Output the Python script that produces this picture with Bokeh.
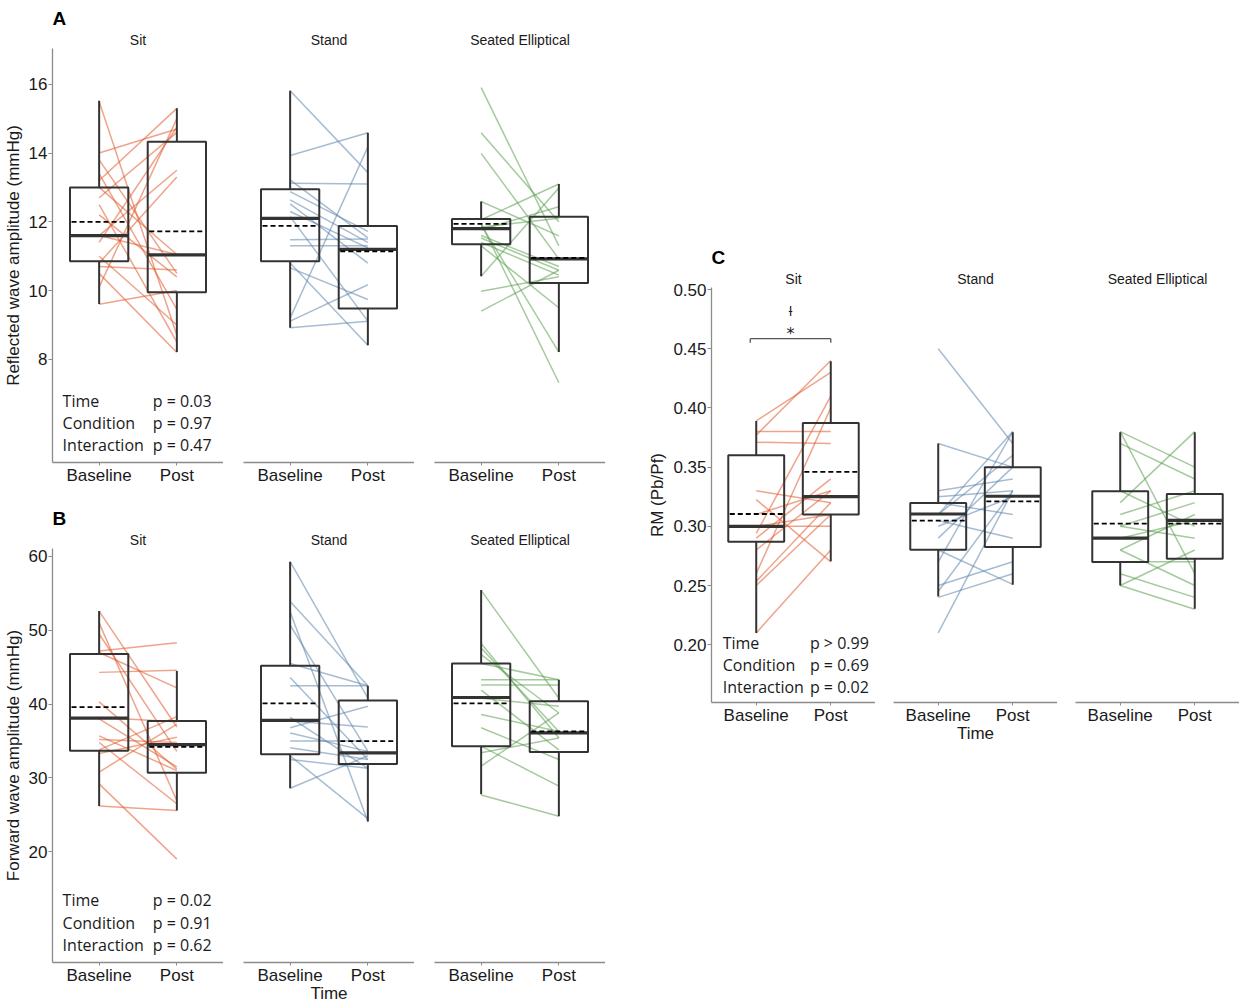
from bokeh.plotting import figure
from bokeh.layouts import row, column
from bokeh.models import (ColumnDataSource, Range1d, FixedTicker, Title, Spacer,
                          NumeralTickFormatter)
from bokeh.core.properties import value
from bokeh.embed import file_html
from bokeh.resources import INLINE

# ------------------------------------------------------------------ data
CONDITIONS = ["Sit", "Stand", "Seated Elliptical"]
TIMES = ["Baseline", "Post"]
TERMS = ["Time", "Condition", "Interaction"]

# Panel A: reflected wave amplitude (mmHg), paired per participant
RWA_SIT_BASE = [15.5, 14.0, 13.8, 13.4, 13.2, 13.0, 12.7, 12.5, 12.2, 11.6, 11.4, 11.0, 10.8, 10.7, 10.5, 10.1, 9.6, 11.6]
RWA_SIT_POST = [8.7, 14.7, 10.5, 9.45, 15.3, 11.05, 14.6, 8.5, 10.4, 13.5, 14.75, 9.0, 13.3, 10.6, 8.2, 15.0, 10.0, 11.05]
RWA_STAND_BASE = [15.81, 13.93, 13.22, 13.12, 12.88, 12.64, 12.52, 12.3, 12.15, 11.48, 11.3, 10.8, 10.66, 9.2, 9.11, 8.92]
RWA_STAND_POST = [13.43, 14.59, 11.53, 13.1, 11.72, 11.4, 10.8, 11.24, 9.11, 11.5, 11.3, 8.41, 9.74, 14.18, 10.17, 9.11]
RWA_SE_BASE = [15.9, 14.59, 13.99, 12.59, 12.06, 11.95, 11.91, 11.77, 11.6, 11.53, 11.4, 11.3, 10.42, 9.98, 9.4, 11.85]
RWA_SE_POST = [11.3, 12.0, 10.92, 11.59, 13.1, 7.32, 8.21, 12.44, 10.7, 10.59, 10.45, 9.5, 12.98, 10.4, 10.59, 12.1]
# box summaries, [Baseline, Post] for each condition
RWA_LOW = [[9.61, 8.21], [8.92, 8.41], [10.42, 8.21]]
RWA_Q1 = [[10.85, 9.95], [10.85, 9.48], [11.35, 10.22]]
RWA_MED = [[11.6, 11.04], [12.1, 11.2], [11.8, 10.92]]
RWA_Q3 = [[13.0, 14.33], [12.95, 11.88], [12.08, 12.15]]
RWA_HIGH = [[15.52, 15.3], [15.81, 14.59], [12.59, 13.1]]
RWA_MEAN = [[12.0, 11.72], [11.88, 11.14], [11.94, 10.95]]
RWA_P = ["p = 0.03", "p = 0.97", "p = 0.47"]
RWA_YTICKS = [8, 10, 12, 14, 16]

# Panel B: forward wave amplitude (mmHg)
FWA_SIT_BASE = [52.6, 51.0, 49.5, 47.2, 47.0, 44.3, 40.3, 38.2, 38.0, 35.7, 35.2, 34.8, 33.8, 33.3, 30.8, 29.2, 26.2]
FWA_SIT_POST = [36.9, 26.9, 33.6, 48.3, 42.2, 44.6, 31.2, 37.6, 31.5, 31.0, 34.8, 26.5, 38.3, 35.5, 37.3, 19.0, 25.6]
FWA_STAND_BASE = [59.3, 53.9, 52.5, 50.7, 45.5, 43.6, 42.5, 38.2, 37.7, 36.8, 36.1, 35.0, 34.1, 32.5, 28.6, 33.0]
FWA_STAND_POST = [40.8, 42.5, 24.1, 33.6, 42.5, 32.5, 42.5, 31.3, 36.9, 39.7, 33.6, 35.0, 32.5, 31.3, 33.0, 24.5]
FWA_SE_BASE = [55.4, 48.2, 47.6, 46.7, 45.5, 43.3, 42.6, 41.9, 40.8, 38.6, 36.8, 34.3, 33.4, 31.6, 27.7]
FWA_SE_POST = [40.8, 35.4, 36.3, 38.8, 43.3, 43.3, 42.6, 33.8, 39.7, 36.3, 32.5, 28.9, 35.4, 38.8, 24.8]
FWA_LOW = [[26.2, 25.6], [28.6, 24.1], [27.8, 24.8]]
FWA_Q1 = [[33.7, 30.7], [33.2, 31.9], [34.3, 33.5]]
FWA_MED = [[38.1, 34.5], [37.8, 33.4], [40.9, 36.1]]
FWA_Q3 = [[46.8, 37.7], [45.2, 40.5], [45.5, 40.4]]
FWA_HIGH = [[52.6, 44.5], [59.3, 42.5], [55.45, 43.3]]
FWA_MEAN = [[39.6, 34.2], [40.1, 35.0], [40.1, 36.3]]
FWA_P = ["p = 0.02", "p = 0.91", "p = 0.62"]
FWA_YTICKS = [20, 30, 40, 50, 60]

# Panel C: reflection magnitude RM (Pb/Pf)
RM_SIT_BASE = [0.389, 0.380, 0.377, 0.371, 0.330, 0.3225, 0.310, 0.300, 0.300, 0.294, 0.290, 0.280, 0.260, 0.2535, 0.250, 0.210]
RM_SIT_POST = [0.430, 0.380, 0.440, 0.370, 0.320, 0.270, 0.330, 0.300, 0.310, 0.410, 0.340, 0.330, 0.400, 0.320, 0.310, 0.280]
RM_STAND_BASE = [0.450, 0.370, 0.330, 0.325, 0.320, 0.310, 0.310, 0.305, 0.300, 0.290, 0.280, 0.270, 0.250, 0.245, 0.240, 0.210]
RM_STAND_POST = [0.370, 0.350, 0.340, 0.330, 0.310, 0.380, 0.360, 0.290, 0.325, 0.350, 0.251, 0.380, 0.270, 0.330, 0.260, 0.330]
RM_SE_BASE = [0.380, 0.380, 0.370, 0.330, 0.320, 0.310, 0.300, 0.300, 0.290, 0.280, 0.280, 0.270, 0.260, 0.250, 0.250]
RM_SE_POST = [0.350, 0.260, 0.340, 0.300, 0.380, 0.330, 0.320, 0.290, 0.305, 0.310, 0.250, 0.270, 0.240, 0.230, 0.280]
RM_LOW = [[0.210, 0.2704], [0.2408, 0.2507], [0.2501, 0.2304]]
RM_Q1 = [[0.2870, 0.310], [0.2803, 0.2825], [0.2699, 0.2727]]
RM_MED = [[0.300, 0.325], [0.3104, 0.3254], [0.2901, 0.3051]]
RM_Q3 = [[0.360, 0.3873], [0.3197, 0.3499], [0.3296, 0.3273]]
RM_HIGH = [[0.389, 0.4394], [0.370, 0.3794], [0.3794, 0.3794]]
RM_MEAN = [[0.3104, 0.346], [0.3048, 0.3211], [0.3023, 0.3023]]
RM_P = ["p > 0.99", "p = 0.69", "p = 0.02"]
RM_YTICKS = [0.20, 0.25, 0.30, 0.35, 0.40, 0.45, 0.50]
RM_SIG = ["ƚ", "*"]

# ------------------------------------------------------------------ style
FONT = "Liberation Sans"
TXT = "#1a1a1a"
AXIS_GREY = "#8c8c8c"
BOX = "#333333"
LINE_COLORS = ["#E05A2B", "#5E85AB", "#5B9E4F"]
HALF = 0.375
XPOS = [i + 1 for i in range(len(TIMES))]

FW_L, FW_R = 171, 164
FH_L, FH_R = 414, 415


def facet(ci, base, post, low, q1, med, q3, high, mean, yr, yticks, fw, fh,
          left, top, bottom, ylabel=None, fmt=None, letter=None, xlabel=None,
          pvals=None, prow=None, pcols=None):
    p = figure(frame_width=fw, frame_height=fh, title=None,
               x_range=Range1d(0.4, 2.6), y_range=Range1d(*yr),
               output_backend="svg", toolbar_location=None,
               y_axis_location="left" if ylabel else None,
               min_border_left=left, min_border_right=0,
               min_border_top=top, min_border_bottom=bottom,
               outline_line_color=None)
    p.add_layout(Title(text=CONDITIONS[ci], align="center", text_font_size="14px",
                       text_font_style="normal", text_font=FONT, text_color=TXT,
                       standoff=2), "above")
    if letter:
        p.add_layout(Title(text=letter, align="left", text_font_size="19px",
                           text_font_style="bold", text_font=FONT, text_color="black",
                           standoff=0), "above")
    p.xgrid.visible = False
    p.ygrid.visible = False

    # x axis
    xa = p.xaxis[0]
    xa.ticker = FixedTicker(ticks=XPOS)
    xa.major_label_overrides = {x: t for x, t in zip(XPOS, TIMES)}
    xa.axis_line_color = AXIS_GREY
    xa.axis_line_width = 1.3
    xa.major_tick_line_color = AXIS_GREY
    xa.major_tick_out = 3
    xa.major_tick_in = 0
    xa.minor_tick_line_color = None
    xa.major_label_text_font = FONT
    xa.major_label_text_font_size = "17px"
    xa.major_label_text_color = TXT
    xa.major_label_standoff = 0
    if xlabel:
        xa.axis_label = xlabel
        xa.axis_label_text_font = FONT
        xa.axis_label_text_font_size = "17px"
        xa.axis_label_text_font_style = "normal"
        xa.axis_label_text_color = TXT
        xa.axis_label_standoff = -4

    if ylabel:
        ya = p.yaxis[0]
        ya.ticker = FixedTicker(ticks=yticks)
        if fmt:
            ya.formatter = NumeralTickFormatter(format=fmt)
        ya.axis_line_color = AXIS_GREY
        ya.axis_line_width = 1.3
        ya.major_tick_line_color = AXIS_GREY
        ya.major_tick_out = 4
        ya.major_tick_in = 0
        ya.minor_tick_line_color = None
        ya.major_label_text_font = FONT
        ya.major_label_text_font_size = "17px"
        ya.major_label_text_color = TXT
        ya.major_label_standoff = 1
        ya.axis_label = ylabel
        ya.axis_label_text_font = FONT
        ya.axis_label_text_font_size = "17px"
        ya.axis_label_text_font_style = "normal"
        ya.axis_label_text_color = TXT
        ya.axis_label_standoff = 3

    # paired participant lines
    src = ColumnDataSource(dict(x0=[XPOS[0]] * len(base), x1=[XPOS[1]] * len(post),
                                y0=base, y1=post))
    p.segment("x0", "y0", "x1", "y1", source=src, line_color=LINE_COLORS[ci],
              line_alpha=0.55, line_width=1.5)

    # boxes
    bs = ColumnDataSource(dict(x=XPOS, left=[x - HALF for x in XPOS],
                               right=[x + HALF for x in XPOS],
                               mleft=[x - HALF + 0.02 for x in XPOS],
                               mright=[x + HALF - 0.02 for x in XPOS],
                               low=low, q1=q1, med=med, q3=q3, high=high, mean=mean))
    p.segment("x", "q3", "x", "high", source=bs, line_color=BOX, line_width=2)
    p.segment("x", "low", "x", "q1", source=bs, line_color=BOX, line_width=2)
    p.quad(left="left", right="right", bottom="q1", top="q3", source=bs,
           fill_color=None, line_color=BOX, line_width=2)
    p.segment("left", "med", "right", "med", source=bs, line_color=BOX, line_width=3.2)
    p.segment("mleft", "mean", "mright", "mean", source=bs, line_color="black",
              line_width=1.8, line_dash="5 3")

    if pvals:
        p.text(x=[pcols[0]] * len(TERMS), y=prow, text=TERMS,
               text_font=value("Open Sans"), text_font_size="16px",
               text_baseline="middle", text_align="left", text_color=TXT)
        p.text(x=[pcols[1]] * len(pvals), y=prow, text=pvals,
               text_font=value("Open Sans"), text_font_size="16px",
               text_baseline="middle", text_align="left", text_color=TXT)
    return p


A_ROWS = [6.78, 6.14, 5.50]
B_ROWS = [13.4, 10.4, 7.4]
C_ROWS = [0.2017, 0.1831, 0.1645]
A_STATS = [[v[i] for v in (RWA_LOW, RWA_Q1, RWA_MED, RWA_Q3, RWA_HIGH, RWA_MEAN)] for i in range(3)]
B_STATS = [[v[i] for v in (FWA_LOW, FWA_Q1, FWA_MED, FWA_Q3, FWA_HIGH, FWA_MEAN)] for i in range(3)]
C_STATS = [[v[i] for v in (RM_LOW, RM_Q1, RM_MED, RM_Q3, RM_HIGH, RM_MEAN)] for i in range(3)]

A1 = facet(0, RWA_SIT_BASE, RWA_SIT_POST, *A_STATS[0], (5.0, 17.04), RWA_YTICKS,
           FW_L, FH_L, 46, 44, 42, ylabel="Reflected wave amplitude (mmHg)", letter="A",
           pvals=RWA_P, prow=A_ROWS, pcols=(0.53, 1.69))
A2 = facet(1, RWA_STAND_BASE, RWA_STAND_POST, *A_STATS[1], (5.0, 17.04), RWA_YTICKS,
           FW_L, FH_L, 20, 44, 42)
A3 = facet(2, RWA_SE_BASE, RWA_SE_POST, *A_STATS[2], (5.0, 17.04), RWA_YTICKS,
           FW_L, FH_L, 20, 44, 42)

B1 = facet(0, FWA_SIT_BASE, FWA_SIT_POST, *B_STATS[0], (5.0, 61.08), FWA_YTICKS,
           FW_L, FH_L, 46, 44, 36, ylabel="Forward wave amplitude (mmHg)", letter="B",
           pvals=FWA_P, prow=B_ROWS, pcols=(0.53, 1.69))
B2 = facet(1, FWA_STAND_BASE, FWA_STAND_POST, *B_STATS[1], (5.0, 61.08), FWA_YTICKS,
           FW_L, FH_L, 20, 44, 36, xlabel="Time")
B3 = facet(2, FWA_SE_BASE, FWA_SE_POST, *B_STATS[2], (5.0, 61.08), FWA_YTICKS,
           FW_L, FH_L, 20, 44, 36)

C1 = facet(0, RM_SIT_BASE, RM_SIT_POST, *C_STATS[0], (0.1512, 0.5017), RM_YTICKS,
           FW_R, FH_R, 106, 40, 42, ylabel="RM (Pb/Pf)", fmt="0.00", letter="C",
           pvals=RM_P, prow=C_ROWS, pcols=(0.55, 1.72))
# significance bracket between Baseline and Post (Sit)
BR_X = (0.92, 2.0)
BR_Y, BR_TICK = 0.4586, 0.0035
C1.segment(x0=[BR_X[0], BR_X[0], BR_X[1]], y0=[BR_Y, BR_Y, BR_Y],
           x1=[BR_X[1], BR_X[0], BR_X[1]], y1=[BR_Y, BR_Y - BR_TICK, BR_Y - BR_TICK],
           line_color="#555555", line_width=1.3)
C1.text(x=[1.46], y=[0.4817], text=RM_SIG[:1], text_font=value("DejaVu Sans"),
        text_font_size="13px", text_align="center", text_baseline="middle", text_color=TXT)
C1.text(x=[1.46], y=[0.4630], text=RM_SIG[1:], text_font=value("DejaVu Sans"),
        text_font_size="16px", text_align="center", text_baseline="middle", text_color=TXT)
C2 = facet(1, RM_STAND_BASE, RM_STAND_POST, *C_STATS[1], (0.1512, 0.5017), RM_YTICKS,
           FW_R, FH_R, 18, 40, 42, xlabel="Time")
C3 = facet(2, RM_SE_BASE, RM_SE_POST, *C_STATS[2], (0.1512, 0.5017), RM_YTICKS,
           FW_R, FH_R, 18, 40, 42)

left_col = column(Spacer(width=10, height=4), row(A1, A2, A3), row(B1, B2, B3))
right_col = column(Spacer(width=10, height=244), row(C1, C2, C3))
layout = row(left_col, right_col)

open("out.html", "w").write(file_html(layout, INLINE))
